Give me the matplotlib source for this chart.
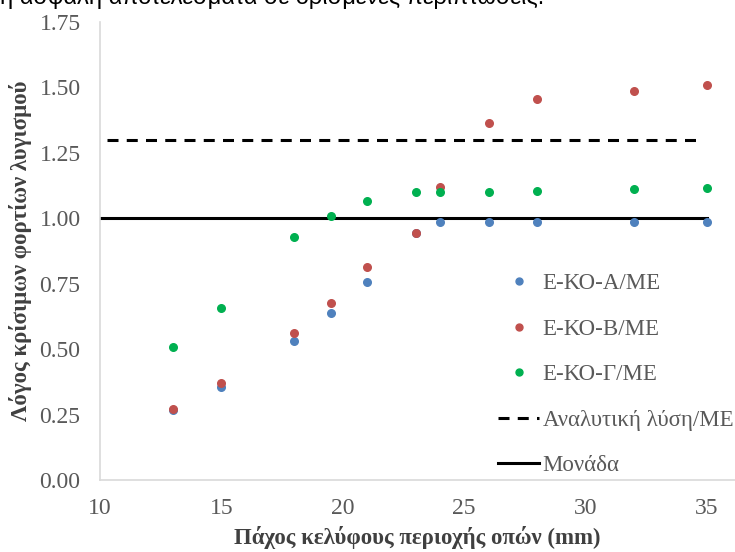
import matplotlib
matplotlib.use("Agg")
import matplotlib.pyplot as plt
from matplotlib.lines import Line2D

# data
thickness = [13, 15, 18, 19.5, 21, 23, 24, 26, 28, 32, 35]
ratio_a = [0.266, 0.357, 0.533, 0.639, 0.758, 0.944, 0.984, 0.984, 0.984, 0.984, 0.984]
ratio_b = [0.272, 0.370, 0.560, 0.677, 0.812, 0.944, 1.120, 1.364, 1.457, 1.487, 1.508]
ratio_g = [0.509, 0.657, 0.927, 1.009, 1.066, 1.100, 1.100, 1.102, 1.105, 1.112, 1.117]
analytic_x = [10.3, 34.8]
analytic_y = [1.30, 1.30]
unit_x = [10, 35]
unit_y = [1.0, 1.0]

labels = ["Ε-ΚΟ-Α/ΜΕ", "Ε-ΚΟ-Β/ΜΕ", "Ε-ΚΟ-Γ/ΜΕ", "Αναλυτική λύση/ΜΕ", "Μονάδα"]
x_ticks = [10, 15, 20, 25, 30, 35]
y_ticks = [0.00, 0.25, 0.50, 0.75, 1.00, 1.25, 1.50, 1.75]

blue = "#4F81BD"
red = "#C0504D"
green = "#00B050"
grey_txt = "#595959"
dash = (3.6, 2.7)

plt.rcParams['font.family'] = ['Liberation Serif', 'DejaVu Serif']

fig = plt.figure(figsize=(7.35, 5.52), dpi=100)
ax = fig.add_axes([100 / 735, 1 - 480 / 552, 1 - 100 / 735, (480 - 22) / 552])

ax.plot(analytic_x, analytic_y, color="black", lw=2.2, dashes=dash)
ax.plot(unit_x, unit_y, color="black", lw=2.2)
ax.scatter(thickness, ratio_a, s=30, color=blue, zorder=3)
ax.scatter(thickness, ratio_b, s=30, color=red, zorder=4)
ax.scatter(thickness, ratio_g, s=30, color=green, zorder=5)

ax.set_xlim(10, 36.15)
ax.set_ylim(0, 1.75)
ax.set_xticks(x_ticks)
ax.set_yticks(y_ticks)
ax.set_yticklabels([f"{v:.2f}" for v in y_ticks])
ax.tick_params(length=0, labelsize=17, labelcolor=grey_txt)
ax.tick_params(axis='y', pad=14)
ax.tick_params(axis='x', pad=13)
for s in ['top', 'right']:
    ax.spines[s].set_visible(False)
for s in ['left', 'bottom']:
    ax.spines[s].set_color("#D9D9D9")
    ax.spines[s].set_linewidth(1.2)

ax.set_xlabel("Πάχος κελύφους περιοχής οπών (mm)", fontsize=16.5, fontweight='bold',
              color="#404040", labelpad=5)
ax.set_ylabel("Λόγος κρίσιμων φορτίων λυγισμού", fontsize=16.5, fontweight='bold',
              color="#404040", labelpad=5)

handles = [
    Line2D([], [], ls='none', marker='o', ms=5, color=blue),
    Line2D([], [], ls='none', marker='o', ms=5, color=red),
    Line2D([], [], ls='none', marker='o', ms=5, color=green),
    Line2D([], [], color="black", lw=2.2, dashes=dash),
    Line2D([], [], color="black", lw=2.2),
]
leg = fig.legend(handles, labels, loc='upper left', bbox_to_anchor=(498 / 735, 1 - 273 / 552),
                 frameon=False, fontsize=16.5, labelspacing=1.07, handlelength=1.8,
                 handletextpad=0.15, borderpad=0, borderaxespad=0)
for t in leg.get_texts():
    t.set_color(grey_txt)

# cut-off line of the surrounding document text
fig.text(0.0, 1 - 4 / 552, "η ασφαλή αποτελέσματα σε ορισμένες περιπτώσεις.",
         fontsize=17, family=['Liberation Sans', 'DejaVu Sans'], va='baseline', ha='left')

fig.savefig("out.png", dpi=100)
